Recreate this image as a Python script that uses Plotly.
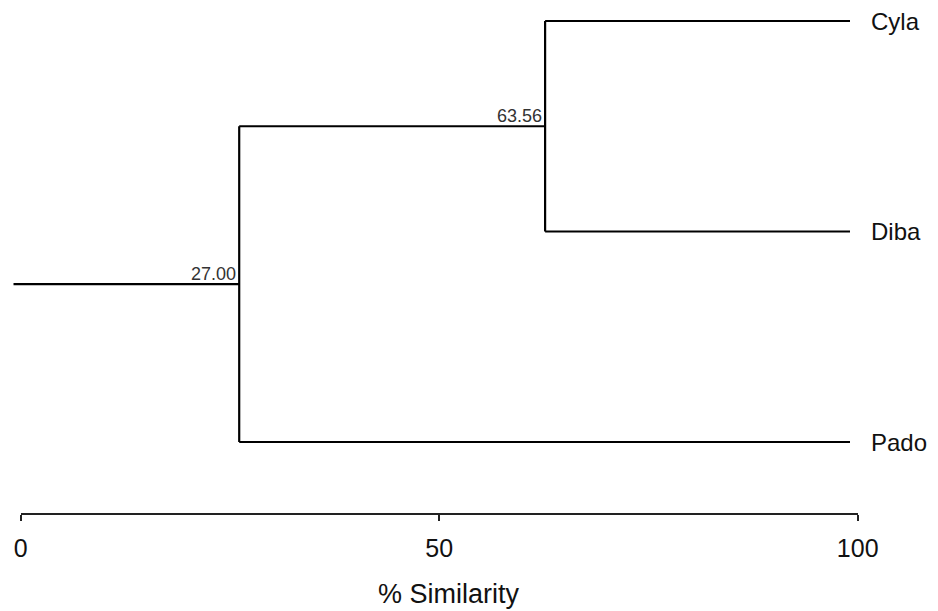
import plotly.graph_objects as go

# ---- data ----
leaves = ["Cyla", "Diba", "Pado"]            # top to bottom
merge_pairs = [("Cyla", "Diba"), ("N1", "Pado")]
merge_sim = [63.56, 27.00]                    # % similarity at each merge
merge_names = ["N1", "N2"]
tick_vals = [0, 50, 100]
tick_text = ["0", "50", "100"]
axis_title = "% Similarity"

W, H = 938, 611

# leaf vertical order positions (top leaf highest)
ypos = {name: float(len(leaves) - 1 - i) for i, name in enumerate(leaves)}
xpos = {name: 100.0 for name in leaves}

xs, ys = [], []
node_labels = []
for (a, b), s, nm in zip(merge_pairs, merge_sim, merge_names):
    for c in (a, b):
        xs += [xpos[c], s, None]
        ys += [ypos[c], ypos[c], None]
    xs += [s, s, None]
    ys += [ypos[a], ypos[b], None]
    ypos[nm] = (ypos[a] + ypos[b]) / 2
    xpos[nm] = s
    node_labels.append((s, ypos[nm], f"{s:.2f}"))
root = merge_names[-1]
xs += [0, xpos[root], None]
ys += [ypos[root], ypos[root], None]

fig = go.Figure()
fig.add_trace(go.Scatter(x=xs, y=ys, mode="lines",
                         line=dict(color="black", width=2.2),
                         hoverinfo="skip", showlegend=False, cliponaxis=False))
# invisible trace for the similarity axis
fig.add_trace(go.Scatter(x=[0, 100], y=[None, None], xaxis="x2", yaxis="y",
                         mode="markers", marker=dict(opacity=0),
                         hoverinfo="skip", showlegend=False))

font = "Arial, 'Liberation Sans', sans-serif"

for s, y, t in node_labels:
    fig.add_annotation(x=s, y=y, xref="x", yref="y", text=t, showarrow=False,
                       xanchor="right", yanchor="bottom", xshift=-1, yshift=-2,
                       font=dict(family=font, size=18, color="#333333"))

for name in leaves:
    fig.add_annotation(x=869 / W, y=ypos[name], xref="paper", yref="y", text=name,
                       showarrow=False, xanchor="left", yanchor="middle",
                       font=dict(family=font, size=24, color="#111111"))

fig.add_annotation(x=449 / W, y=1 - 594 / H, xref="paper", yref="paper",
                   text=axis_title, showarrow=False, xanchor="center",
                   yanchor="middle", font=dict(family=font, size=27, color="#111111"))

px_top_leaf, px_unit = 21.0, 210.5
y_top = (len(leaves) - 1) + px_top_leaf / px_unit
y_bot = (len(leaves) - 1) - (H - px_top_leaf) / px_unit

fig.update_layout(
    width=W, height=H,
    margin=dict(l=0, r=0, t=0, b=0, autoexpand=False),
    paper_bgcolor="white", plot_bgcolor="rgba(0,0,0,0)",
    xaxis=dict(domain=[13.3 / W, 850 / W], range=[0, 100], visible=False,
               fixedrange=True, automargin=False),
    yaxis=dict(domain=[0, 1], range=[y_bot, y_top], visible=False,
               fixedrange=True, automargin=False),
    xaxis2=dict(domain=[20.7 / W, 857.7 / W], range=[0, 100], anchor="free",
                position=1 - 514 / H, showline=True, linecolor="#222222",
                linewidth=1.5, ticks="outside", ticklen=6, tickwidth=1.5,
                tickcolor="#222222", tickvals=tick_vals, ticktext=tick_text,
                showgrid=False, zeroline=False, fixedrange=True,
                automargin=False, ticklabelstandoff=6,
                tickfont=dict(family=font, size=25, color="#111111")),
    showlegend=False,
)

fig.write_html("out.html")
